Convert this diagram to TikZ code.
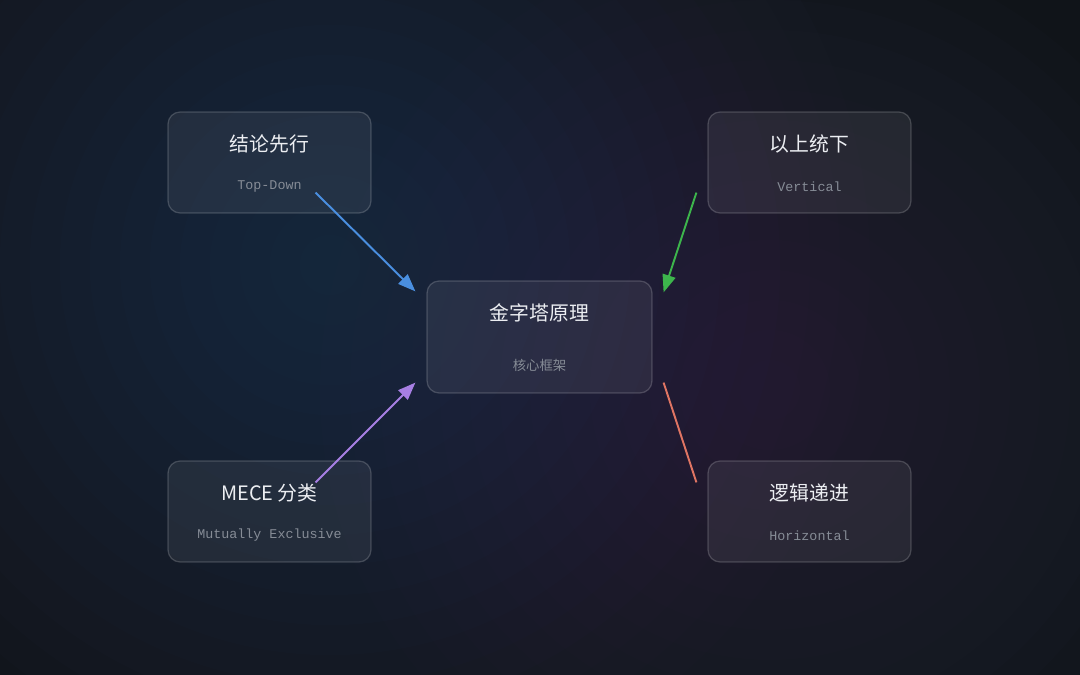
\documentclass[tikz,border=0pt]{standalone}
\usepackage{fontspec}
\setmainfont{Noto Sans CJK SC}
\setmonofont{Liberation Mono}
\usepackage{tikz}
\usetikzlibrary{arrows.meta, positioning, calc}

\definecolor{bgbase}{HTML}{101419}
\definecolor{glowblue}{HTML}{2D4468}
\definecolor{glowpurple}{HTML}{3A3252}
\definecolor{titlecol}{HTML}{ECEEF2}
\definecolor{subcol}{HTML}{868C96}
\definecolor{arrowblue}{HTML}{4A8FE0}
\definecolor{arrowgreen}{HTML}{3DB54C}
\definecolor{arrowpurple}{HTML}{A77FE3}
\definecolor{arroworange}{HTML}{E07563}

\begin{document}
\begin{tikzpicture}[
    x=0.02cm, y=-0.02cm,
    box/.style={rectangle, rounded corners=0.24cm, inner sep=0pt,
        fill=white, fill opacity=0.065, draw=white, draw opacity=0.18, line width=0.7pt},
    sidebox/.style={box, minimum width=4.06cm, minimum height=2.02cm},
    corebox/.style={box, minimum width=4.5cm, minimum height=2.24cm},
    title/.style={font=\fontsize{11.3}{13}\selectfont, text=titlecol},
    sub/.style={font=\ttfamily\fontsize{7.6}{9}\selectfont, text=subcol},
    flow/.style={line width=1.1pt, -{Triangle[length=10pt, width=7.5pt]}},
    >=Stealth
]
% Background
\useasboundingbox (0,0) rectangle (1080,675);
\begin{scope}
\clip (0,0) rectangle (1080,675);
\fill[bgbase] (0,0) rectangle (1080,675);
\foreach \r in {30,60,...,540}
    \fill[glowblue, opacity=0.04] (330,265) circle (\r);
\foreach \r in {30,60,...,450}
    \fill[glowpurple, opacity=0.04] (770,390) circle (\r);
\end{scope}

% Boxes
\node[sidebox] (tl) at (269.5,162.5) {};
\node[sidebox] (tr) at (809.5,162.5) {};
\node[corebox] (core) at (539.5,337) {};
\node[sidebox] (bl) at (269.5,511.5) {};
\node[sidebox] (br) at (809.5,511.5) {};

% Texts
\node[title] (tltitle) at ($(tl.north)+(0,33)$) {结论先行};
\node[sub] (tlsub) at ($(tl.north)+(0,75)$) {Top-Down};
\node[title] (trtitle) at ($(tr.north)+(0,33)$) {以上统下};
\node[sub] (trsub) at ($(tr.north)+(0,75)$) {Vertical};
\node[title] (coretitle) at ($(core.north)+(0,32)$) {金字塔原理};
\node[title, font=\fontsize{7.6}{9}\selectfont, text=subcol] (coresub) at ($(core.north)+(0,85)$) {核心框架};
\node[title] (bltitle) at ($(bl.north)+(0,33)$) {MECE 分类};
\node[sub] (blsub) at ($(bl.north)+(0,75)$) {Mutually Exclusive};
\node[title] (brtitle) at ($(br.north)+(0,33)$) {逻辑递进};
\node[sub] (brsub) at ($(br.north)+(0,75)$) {Horizontal};

% Connector ends
\coordinate (tlout) at ($(tl.south east)+(-56,-21)$);
\coordinate (trout) at ($(tr.south west)+(-11,-21)$);
\coordinate (blout) at ($(bl.north east)+(-56,22)$);
\coordinate (brin) at ($(br.north west)+(-11,22)$);
\coordinate (corenw) at ($(core.north west)+(-11,11)$);
\coordinate (corene) at ($(core.north east)+(11,12)$);
\coordinate (coresw) at ($(core.south west)+(-11,-11)$);
\coordinate (corese) at ($(core.south east)+(11,-11)$);

% Connectors
\draw[flow, arrowblue] (tlout) -- (corenw);
\draw[flow, arrowgreen] (trout) -- (corene);
\draw[flow, arrowpurple] (blout) -- (coresw);
\draw[line width=1.1pt, arroworange] (corese) -- (brin);
\end{tikzpicture}
\end{document}
